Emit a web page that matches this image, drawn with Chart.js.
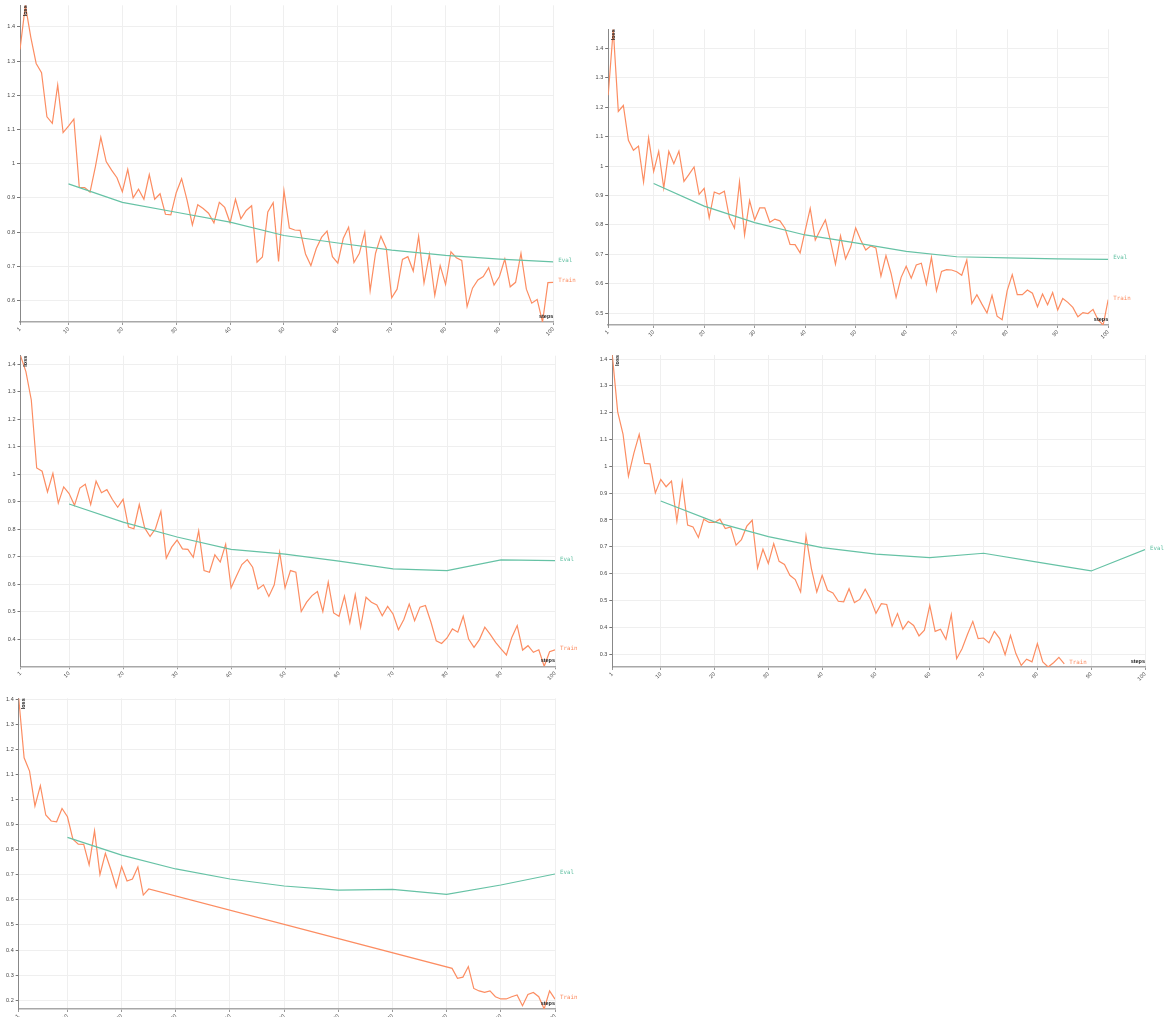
<!DOCTYPE html>
<html>
<head>
<meta charset="utf-8">
<script src="https://cdn.jsdelivr.net/npm/chart.js@4.4.1/dist/chart.umd.min.js"></script>
<style>
html, body { margin: 0; padding: 0; background: #fff; }
body { width: 1165px; height: 1017px; position: relative; overflow: hidden; }
canvas { position: absolute; }
</style>
</head>
<body>
<script>
// x categories
function stepRange(a, b) {
    const out = [];
    for (let s = a; s <= b; s++) out.push(s);
    return out;
}
const xTickValues = [1, 10, 20, 30, 40, 50, 60, 70, 80, 90, 100];
const evalSteps = [10, 20, 30, 40, 50, 60, 70, 80, 90, 100];

// run 1 (top left)
const run1TrainSteps = stepRange(1, 100);
const run1Train = [
    1.334, 1.463, 1.370, 1.293, 1.266, 1.137, 1.118, 1.230, 1.091, 1.110,
    1.130, 0.931, 0.930, 0.917, 0.991, 1.077, 1.006, 0.981, 0.959, 0.918,
    0.983, 0.900, 0.925, 0.896, 0.968, 0.896, 0.912, 0.852, 0.850, 0.915,
    0.956, 0.894, 0.821, 0.880, 0.869, 0.855, 0.827, 0.887, 0.872, 0.827,
    0.896, 0.839, 0.863, 0.877, 0.712, 0.727, 0.859, 0.886, 0.714, 0.921,
    0.812, 0.806, 0.805, 0.736, 0.702, 0.752, 0.785, 0.803, 0.728, 0.709,
    0.781, 0.814, 0.711, 0.738, 0.799, 0.629, 0.738, 0.788, 0.752, 0.608,
    0.633, 0.720, 0.728, 0.686, 0.788, 0.651, 0.735, 0.615, 0.702, 0.647,
    0.742, 0.725, 0.717, 0.582, 0.636, 0.660, 0.670, 0.696, 0.645, 0.670,
    0.721, 0.640, 0.653, 0.738, 0.633, 0.592, 0.603, 0.537, 0.652, 0.653
];
const run1Eval = [0.941, 0.887, 0.858, 0.829, 0.790, 0.768, 0.747, 0.732, 0.721, 0.713];

// run 2 (top right)
const run2TrainSteps = stepRange(1, 100);
const run2Train = [
    1.241, 1.465, 1.186, 1.206, 1.088, 1.054, 1.068, 0.946, 1.096, 0.982,
    1.050, 0.925, 1.050, 1.008, 1.051, 0.948, 0.972, 0.997, 0.904, 0.924,
    0.824, 0.912, 0.905, 0.915, 0.825, 0.789, 0.946, 0.766, 0.883, 0.817,
    0.858, 0.858, 0.809, 0.820, 0.814, 0.789, 0.734, 0.733, 0.705, 0.781,
    0.856, 0.749, 0.784, 0.817, 0.747, 0.667, 0.763, 0.685, 0.724, 0.790,
    0.749, 0.715, 0.729, 0.722, 0.626, 0.696, 0.636, 0.554, 0.622, 0.660,
    0.619, 0.664, 0.670, 0.599, 0.690, 0.576, 0.642, 0.648, 0.647, 0.641,
    0.629, 0.681, 0.533, 0.563, 0.531, 0.501, 0.561, 0.490, 0.478, 0.577,
    0.631, 0.563, 0.563, 0.579, 0.568, 0.522, 0.565, 0.529, 0.570, 0.511,
    0.550, 0.537, 0.520, 0.488, 0.502, 0.499, 0.513, 0.477, 0.460, 0.546
];
const run2Eval = [0.941, 0.864, 0.808, 0.766, 0.739, 0.710, 0.692, 0.688, 0.685, 0.683];

// run 3 (middle left)
const run3TrainSteps = stepRange(1, 100);
const run3Train = [
    1.431, 1.373, 1.270, 1.023, 1.011, 0.936, 1.003, 0.895, 0.954, 0.930,
    0.887, 0.950, 0.964, 0.890, 0.975, 0.933, 0.944, 0.909, 0.880, 0.909,
    0.808, 0.802, 0.890, 0.805, 0.774, 0.802, 0.865, 0.695, 0.735, 0.761,
    0.729, 0.727, 0.698, 0.794, 0.650, 0.644, 0.707, 0.681, 0.745, 0.587,
    0.630, 0.672, 0.690, 0.662, 0.583, 0.598, 0.556, 0.598, 0.717, 0.587,
    0.650, 0.644, 0.501, 0.535, 0.559, 0.574, 0.501, 0.608, 0.496, 0.484,
    0.557, 0.460, 0.562, 0.444, 0.553, 0.535, 0.525, 0.486, 0.520, 0.492,
    0.435, 0.472, 0.528, 0.468, 0.517, 0.523, 0.464, 0.395, 0.385, 0.405,
    0.438, 0.426, 0.484, 0.401, 0.371, 0.399, 0.444, 0.418, 0.389, 0.365,
    0.343, 0.407, 0.450, 0.361, 0.377, 0.353, 0.362, 0.302, 0.355, 0.362
];
const run3Eval = [0.892, 0.826, 0.772, 0.727, 0.710, 0.684, 0.656, 0.650, 0.689, 0.686];

// run 4 (middle right) - train stops at step 85
const run4TrainSteps = stepRange(1, 85);
const run4Train = [
    1.415, 1.203, 1.119, 0.963, 1.048, 1.119, 1.011, 1.009, 0.901, 0.951,
    0.924, 0.945, 0.796, 0.942, 0.781, 0.774, 0.735, 0.803, 0.791, 0.791,
    0.803, 0.768, 0.774, 0.706, 0.727, 0.777, 0.799, 0.621, 0.691, 0.638,
    0.712, 0.646, 0.634, 0.594, 0.578, 0.532, 0.741, 0.619, 0.532, 0.594,
    0.538, 0.528, 0.497, 0.495, 0.544, 0.492, 0.504, 0.542, 0.505, 0.452,
    0.488, 0.485, 0.404, 0.451, 0.393, 0.422, 0.407, 0.368, 0.389, 0.482,
    0.385, 0.393, 0.355, 0.447, 0.283, 0.320, 0.373, 0.422, 0.358, 0.360,
    0.342, 0.385, 0.358, 0.298, 0.370, 0.302, 0.258, 0.281, 0.271, 0.339,
    0.271, 0.252, 0.268, 0.288, 0.264
];
const run4Eval = [0.871, 0.793, 0.738, 0.697, 0.673, 0.660, 0.676, 0.643, 0.610, 0.690];

// run 5 (bottom left) - no train logs between step 25 and 81
const run5TrainSteps = stepRange(1, 25).concat(stepRange(81, 100));
const run5Train = [
    1.403, 1.166, 1.113, 0.974, 1.055, 0.938, 0.914, 0.911, 0.964, 0.931,
    0.842, 0.822, 0.821, 0.739, 0.875, 0.701, 0.785, 0.721, 0.650, 0.733,
    0.675, 0.683, 0.731, 0.619, 0.643,
    0.327, 0.287, 0.292, 0.334, 0.247, 0.237, 0.231, 0.237, 0.214, 0.205,
    0.205, 0.214, 0.221, 0.178, 0.223, 0.231, 0.214, 0.165, 0.237, 0.204
];
const run5Eval = [0.849, 0.778, 0.723, 0.683, 0.655, 0.639, 0.642, 0.622, 0.659, 0.703];

const trainColor = '#fc8d62';
const evalColor = '#66c2a5';

// plot areas on the page
const panels = [
    { steps: run1TrainSteps, train: run1Train, evals: run1Eval, left: 20, right: 553.3, top: 5, bottom: 322 },
    { steps: run2TrainSteps, train: run2Train, evals: run2Eval, left: 608.2, right: 1108.2, top: 29.3, bottom: 325 },
    { steps: run3TrainSteps, train: run3Train, evals: run3Eval, left: 20.5, right: 555, top: 355.7, bottom: 666.3 },
    { steps: run4TrainSteps, train: run4Train, evals: run4Eval, left: 612.3, right: 1145, top: 355, bottom: 667 },
    { steps: run5TrainSteps, train: run5Train, evals: run5Eval, left: 18.7, right: 555, top: 698.3, bottom: 1009 }
];

const Y_W = 22;
const X_H = 14;

const labelPlugin = {
    id: 'labelPlugin',
    afterDatasetsDraw(chart) {
        const ctx = chart.ctx;
        const xs = chart.scales.x, ys = chart.scales.y;
        const a = chart.chartArea;
        ctx.save();
        ctx.font = '5.8px "DejaVu Sans Mono", monospace';
        ctx.textAlign = 'left';
        ctx.textBaseline = 'middle';
        chart.data.datasets.forEach(ds => {
            const last = ds.data[ds.data.length - 1];
            ctx.fillStyle = ds.borderColor;
            ctx.fillText(ds.label, xs.getPixelForValue(last.x) + 5, ys.getPixelForValue(last.y) - 1.5);
        });
        ctx.fillStyle = '#222';
        ctx.font = '600 5.5px "Liberation Sans", sans-serif';
        ctx.textAlign = 'right';
        ctx.textBaseline = 'bottom';
        ctx.fillText('steps', a.right, a.bottom - 3);
        ctx.translate(a.left + 2.5, a.top);
        ctx.rotate(-Math.PI / 2);
        ctx.textAlign = 'right';
        ctx.textBaseline = 'top';
        ctx.fillText('loss', 0, 0);
        ctx.restore();
    }
};

function makePanel(p) {
    const canvasLeft = Math.floor(p.left) - 25;
    const canvasTop = Math.max(0, Math.floor(p.top) - 6);
    const padL = p.left - canvasLeft;
    const padT = p.top - canvasTop;
    const padR = 40, padB = 22;
    const w = Math.ceil(p.right - canvasLeft + padR);
    const h = Math.ceil(p.bottom - canvasTop + padB);

    const canvas = document.createElement('canvas');
    canvas.width = w;
    canvas.height = h;
    canvas.style.width = w + 'px';
    canvas.style.height = h + 'px';
    canvas.style.left = canvasLeft + 'px';
    canvas.style.top = canvasTop + 'px';
    document.body.appendChild(canvas);

    const all = p.train.concat(p.evals);
    const yMin = Math.min(...all);
    const yMax = Math.max(...all);

    new Chart(canvas, {
        type: 'line',
        data: {
            datasets: [
                {
                    label: 'Eval',
                    data: evalSteps.map((s, i) => ({ x: s, y: p.evals[i] })),
                    borderColor: evalColor,
                    borderWidth: 1.2,
                    pointRadius: 0,
                    tension: 0,
                    fill: false
                },
                {
                    label: 'Train',
                    data: p.steps.map((s, i) => ({ x: s, y: p.train[i] })),
                    borderColor: trainColor,
                    borderWidth: 1.2,
                    pointRadius: 0,
                    tension: 0,
                    fill: false
                }
            ]
        },
        options: {
            responsive: false,
            animation: false,
            layout: {
                padding: {
                    left: padL - Y_W,
                    top: padT,
                    right: w - (p.right - canvasLeft),
                    bottom: h - (p.bottom - canvasTop) - X_H
                }
            },
            plugins: {
                legend: { display: false },
                tooltip: { enabled: false }
            },
            scales: {
                x: {
                    type: 'linear',
                    min: 1,
                    max: 100,
                    afterFit: s => { s.height = X_H; },
                    afterBuildTicks: s => { s.ticks = xTickValues.map(v => ({ value: v })); },
                    grid: { color: '#efefef', lineWidth: 1, tickLength: 3, tickColor: '#999' },
                    border: { display: true, color: '#a8a8a8', width: 1.5 },
                    ticks: {
                        autoSkip: false,
                        minRotation: 45,
                        maxRotation: 45,
                        padding: 1,
                        color: '#444',
                        font: { size: 5.5, family: '"Liberation Sans", sans-serif' },
                        callback: v => String(v)
                    }
                },
                y: {
                    type: 'linear',
                    min: yMin,
                    max: yMax,
                    bounds: 'data',
                    afterFit: s => { s.width = Y_W; },
                    afterBuildTicks: s => {
                        const ticks = [];
                        for (let k = Math.ceil(yMin * 10 - 1e-9); k <= Math.floor(yMax * 10 + 1e-9); k++) {
                            ticks.push({ value: k / 10 });
                        }
                        s.ticks = ticks;
                    },
                    grid: { color: '#efefef', lineWidth: 1, tickLength: 3, tickColor: '#777' },
                    border: { display: true, color: '#888', width: 1 },
                    ticks: {
                        padding: 2,
                        color: '#444',
                        font: { size: 5.5, family: '"Liberation Sans", sans-serif' },
                        callback: v => String(Math.round(v * 10) / 10)
                    }
                }
            }
        },
        plugins: [labelPlugin]
    });
}

document.addEventListener('DOMContentLoaded', function() {
    panels.forEach(makePanel);
});
</script>
</body>
</html>
